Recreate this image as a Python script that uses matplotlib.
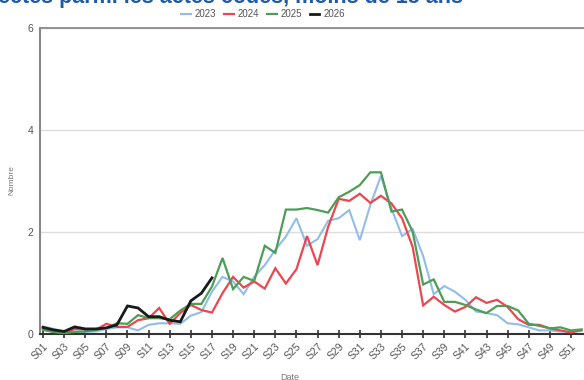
import matplotlib
matplotlib.use("Agg")
import matplotlib.pyplot as plt
from matplotlib.lines import Line2D

weeks = list(range(1, 53))
tick_weeks = list(range(1, 52, 2))
tick_labels = ["S%02d" % w for w in tick_weeks]

y2023 = [0.15, 0.10, 0.05, 0.05, 0.04, 0.05, 0.10, 0.13, 0.13, 0.07,
         0.18, 0.21, 0.21, 0.20, 0.36, 0.43, 0.83, 1.12, 1.03, 0.78,
         1.12, 1.35, 1.65, 1.91, 2.27, 1.73, 1.86, 2.22, 2.27, 2.43,
         1.84, 2.53, 3.10, 2.46, 1.92, 2.06, 1.53, 0.78, 0.94, 0.83,
         0.67, 0.44, 0.41, 0.37, 0.21, 0.19, 0.13, 0.07, 0.07, 0.05,
         0.04, 0.06]
y2024 = [0.10, 0.04, 0.03, 0.10, 0.09, 0.08, 0.20, 0.14, 0.14, 0.27,
         0.31, 0.51, 0.20, 0.41, 0.57, 0.47, 0.42, 0.80, 1.12, 0.91,
         1.03, 0.89, 1.29, 0.99, 1.27, 1.92, 1.35, 2.10, 2.65, 2.61,
         2.75, 2.57, 2.71, 2.56, 2.27, 1.71, 0.56, 0.73, 0.57, 0.44,
         0.53, 0.72, 0.61, 0.67, 0.53, 0.29, 0.18, 0.18, 0.11, 0.07,
         0.03, 0.08]
y2025 = [0.08, 0.04, 0.02, 0.04, 0.05, 0.08, 0.12, 0.21, 0.20, 0.37,
         0.31, 0.31, 0.29, 0.46, 0.59, 0.59, 0.93, 1.49, 0.88, 1.12,
         1.04, 1.73, 1.59, 2.44, 2.44, 2.47, 2.43, 2.38, 2.68, 2.79,
         2.92, 3.17, 3.17, 2.40, 2.44, 2.01, 0.97, 1.07, 0.63, 0.63,
         0.57, 0.48, 0.41, 0.55, 0.55, 0.46, 0.20, 0.16, 0.11, 0.13,
         0.07, 0.09]
y2026 = [0.13, 0.08, 0.05, 0.14, 0.10, 0.10, 0.12, 0.18, 0.55, 0.51,
         0.34, 0.34, 0.27, 0.24, 0.65, 0.80, 1.10]

series = [("2023", y2023, "#91bde9", 1.5),
          ("2024", y2024, "#ec4650", 1.6),
          ("2025", y2025, "#4e9d56", 1.6),
          ("2026", y2026, "#1a1a1a", 2.0)]

W, H = 584, 380
fig = plt.figure(figsize=(W / 100, H / 100), dpi=100)
plt.rcParams['font.family'] = ['Liberation Sans', 'DejaVu Sans']

left_px, right_px, top_px, bottom_px = 40, 592, 28, 334
ax = fig.add_axes([left_px / W, (H - bottom_px) / H,
                   (right_px - left_px) / W, (bottom_px - top_px) / H])

for name, vals, col, lw in series:
    ax.plot(weeks[:len(vals)], vals, color=col, lw=lw, label=name,
            solid_joinstyle='miter', zorder=3)

ppw = 10.56
ax.set_xlim(1 - 3 / ppw, 1 - 3 / ppw + (right_px - left_px) / ppw)
ax.set_ylim(0, 6)
ax.set_yticks([0, 2, 4, 6])
ax.set_yticklabels(["0", "2", "4", "6"], fontsize=7.5, color="#555555")
ax.tick_params(axis='y', length=0, pad=5)
ax.set_xticks(tick_weeks)
ax.set_xticklabels(tick_labels, rotation=45, fontsize=7.5, color="#555555",
                   ha='right', rotation_mode='anchor')
ax.tick_params(axis='x', direction='inout', length=6, width=1.2,
               color="#333333", pad=2)
ax.grid(axis='y', color="#dddddd", lw=1, zorder=0)
ax.set_axisbelow(True)
ax.spines['right'].set_visible(False)
ax.spines['top'].set_color("#888888")
ax.spines['top'].set_linewidth(1.3)
ax.spines['left'].set_color("#888888")
ax.spines['left'].set_linewidth(1.5)
ax.spines['bottom'].set_color("#333333")
ax.spines['bottom'].set_linewidth(1.5)

fig.text(12 / W, 1 - 180 / H, "Nombre", rotation=90, fontsize=6,
         color="#777777", ha='center', va='center')
fig.text(290 / W, 1 - 377 / H, "Date", fontsize=6.5, color="#777777",
         ha='center', va='center')

fig.text(-2 / W, 1 - 3 / H, "ectés parmi les actes codés, moins de 15 ans",
         fontsize=15.5, fontweight='bold', color="#1f5aa6", ha='left',
         va='baseline')

handles = [Line2D([], [], color=c, lw=lw) for _, _, c, lw in series]
fig.legend(handles, [s[0] for s in series], loc='center',
           bbox_to_anchor=(263 / W, 1 - 14 / H), ncol=4, frameon=False,
           fontsize=7, handlelength=1.0, handletextpad=0.4,
           columnspacing=0.8, labelcolor="#555555")

fig.savefig("out.png", dpi=100)
